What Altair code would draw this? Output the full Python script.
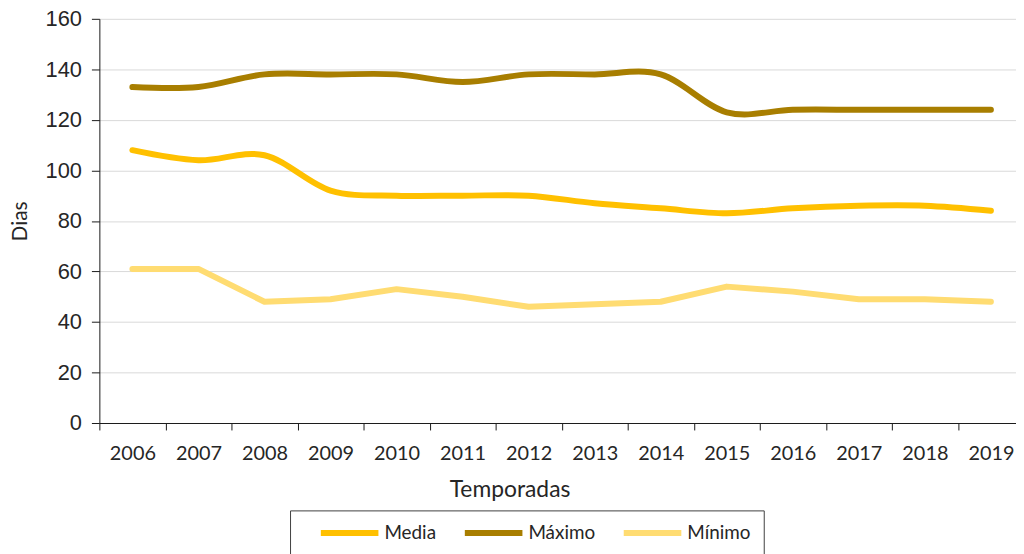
import altair as alt
import pandas as pd

years = ["2006", "2007", "2008", "2009", "2010", "2011", "2012",
         "2013", "2014", "2015", "2016", "2017", "2018", "2019"]
media = [108, 104, 106, 92, 90, 90, 90, 87, 85, 83, 85, 86, 86, 84]
maximo = [133, 133, 138, 138, 138, 135, 138, 138, 138, 123, 124, 124, 124, 124]
minimo = [61, 61, 48, 49, 53, 50, 46, 47, 48, 54, 52, 49, 49, 48]
series = ["Media", "Máximo", "Mínimo"]
colors = ["#FFC000", "#A87E00", "#FFDC72"]
y_ticks = [0, 20, 40, 60, 80, 100, 120, 140, 160]

rows = []
for name, vals in zip(series, [media, maximo, minimo]):
    for yr, v in zip(years, vals):
        rows.append({"Temporada": yr, "Valor": v, "Serie": name})
df = pd.DataFrame(rows)

x_enc = alt.X(
    "Temporada:N",
    sort=years,
    bandPosition=0.5,
    scale=alt.Scale(type="band", domain=years, paddingInner=0, paddingOuter=0),
    axis=alt.Axis(
        title="Temporadas", tickBand="extent", grid=False, labelAngle=0,
        labelFont="Lato", labelFontSize=20, labelColor="#262626",
        labelBaseline="alphabetic", labelPadding=30, tickSize=7,
        tickColor="#1a1a1a", domainColor="#1a1a1a",
        titleFont="Lato", titleFontSize=23, titleFontWeight="normal",
        titleColor="#262626", titleBaseline="alphabetic", titleAlign="center",
        titleX=413, titleY=74,
    ),
)
y_enc = alt.Y(
    "Valor:Q",
    scale=alt.Scale(domain=[0, 160], nice=False),
    axis=alt.Axis(
        title="Dias", values=y_ticks, grid=True, gridColor="#D9D9D9",
        labelFont="Liberation Sans", labelFontSize=22, labelColor="#262626",
        labelPadding=10, tickSize=8, tickColor="#1a1a1a", domainColor="#1a1a1a",
        titleFont="Lato", titleFontSize=21, titleFontWeight="normal",
        titleColor="#262626", titleAngle=270, titleBaseline="alphabetic",
        titleAlign="center", titleX=-73, titleY=203.5,
    ),
)
color_enc = alt.Color(
    "Serie:N",
    scale=alt.Scale(domain=series, range=colors),
    legend=alt.Legend(
        title=None, orient="none", legendX=192, legendY=495,
        direction="horizontal", columns=3, symbolType="stroke",
        symbolSize=3364, symbolStrokeWidth=6, clipHeight=19,
        symbolOffset=15, labelOffset=3, columnPadding=10,
        labelFont="Lato", labelFontSize=19, labelColor="#262626",
        strokeColor="#404040", padding=13,
    ),
)

base = alt.Chart(df).encode(x=x_enc, y=y_enc, color=color_enc,
                            order=alt.Order("Temporada:N"))

smooth = base.transform_filter(
    alt.FieldOneOfPredicate(field="Serie", oneOf=["Media", "Máximo"])
).mark_line(interpolate="cardinal", strokeWidth=6, strokeCap="round",
            strokeJoin="round")

straight = base.transform_filter(
    alt.FieldEqualPredicate(field="Serie", equal="Mínimo")
).mark_line(interpolate="linear", strokeWidth=6, strokeCap="round",
            strokeJoin="round")

chart = alt.layer(smooth, straight).properties(
    width=931, height=407,
    autosize=alt.AutoSizeParams(type="none"),
    padding={"left": 92, "top": 9, "right": -8, "bottom": 130},
    background="white",
).configure_view(stroke=None)

chart.save("out.html", embed_options={"renderer": "svg", "actions": False})
